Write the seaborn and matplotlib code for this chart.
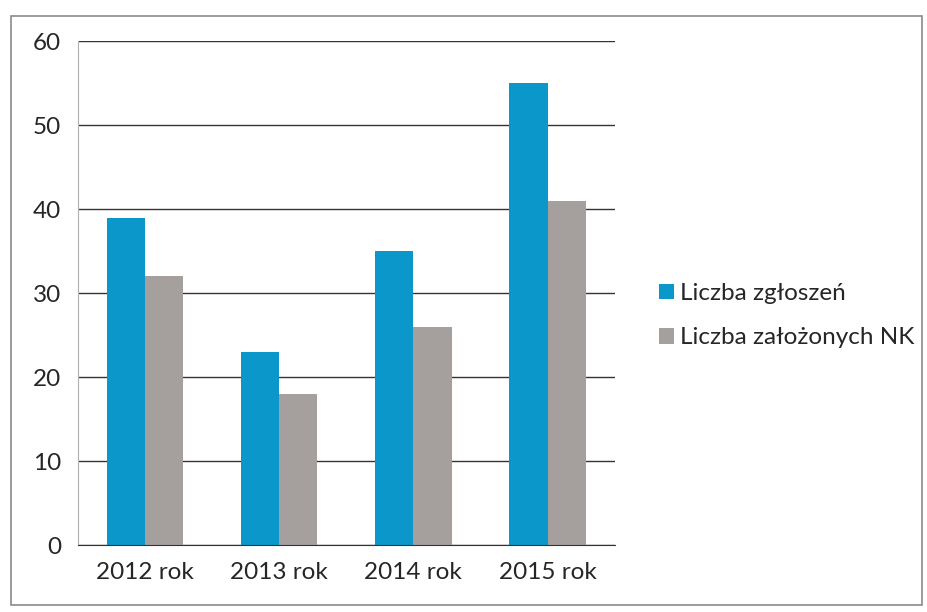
import pandas as pd
import seaborn as sns
import matplotlib.pyplot as plt
from matplotlib.patches import Rectangle

# data
years = ["2012 rok", "2013 rok", "2014 rok", "2015 rok"]
zgloszenia = [39, 23, 35, 55]
zalozone = [32, 18, 26, 41]
series = ["Liczba zgłoszeń", "Liczba założonych NK"]

df = pd.DataFrame({
    "rok": years * 2,
    "wartosc": zgloszenia + zalozone,
    "seria": [series[0]] * 4 + [series[1]] * 4,
})

sns.set_style("white")
plt.rcParams['font.family'] = ['Lato', 'DejaVu Sans']

fig = plt.figure(figsize=(9.27, 6.12), dpi=100)
ax = fig.add_axes([0.084, 0.109, 0.579, 0.824])

sns.barplot(data=df, x="rok", y="wartosc", hue="seria",
            palette=["#0b97c9", "#a59f9d"], width=0.57,
            saturation=1, linewidth=0, ax=ax)

ax.set_ylim(0, 60)
ax.set_xlim(-0.5, 3.5)
ax.set_yticks(range(0, 61, 10))
ax.yaxis.grid(True, color="#333333", linewidth=1.0)
ax.set_axisbelow(True)
ax.set_xlabel("")
ax.set_ylabel("")

for s in ["top", "right"]:
    ax.spines[s].set_visible(False)
ax.spines["left"].set_color("#b0b0b0")
ax.spines["left"].set_linewidth(0.8)
ax.spines["bottom"].set_color("#333333")

ax.tick_params(axis="y", length=6, color="#333333", labelsize=17.5, pad=6)
ax.tick_params(axis="x", length=0, labelsize=17.5, pad=12)
ax.set_xticks([-0.5, 0.5, 1.5, 2.5, 3.5], minor=True)
ax.tick_params(axis="x", which="minor", length=6, color="#333333")

leg = ax.legend(loc="center left", bbox_to_anchor=(1.042, 0.455),
                frameon=False, fontsize=17.5, handlelength=0.6,
                handleheight=0.6, handletextpad=0.25, labelspacing=0.95)

# outer frame of the chart
fig.patches.append(Rectangle((0.012, 0.012), 0.983, 0.962,
                             transform=fig.transFigure, fill=False,
                             edgecolor="#8a8a8a", linewidth=1.2))

fig.savefig("out.png", dpi=100)
